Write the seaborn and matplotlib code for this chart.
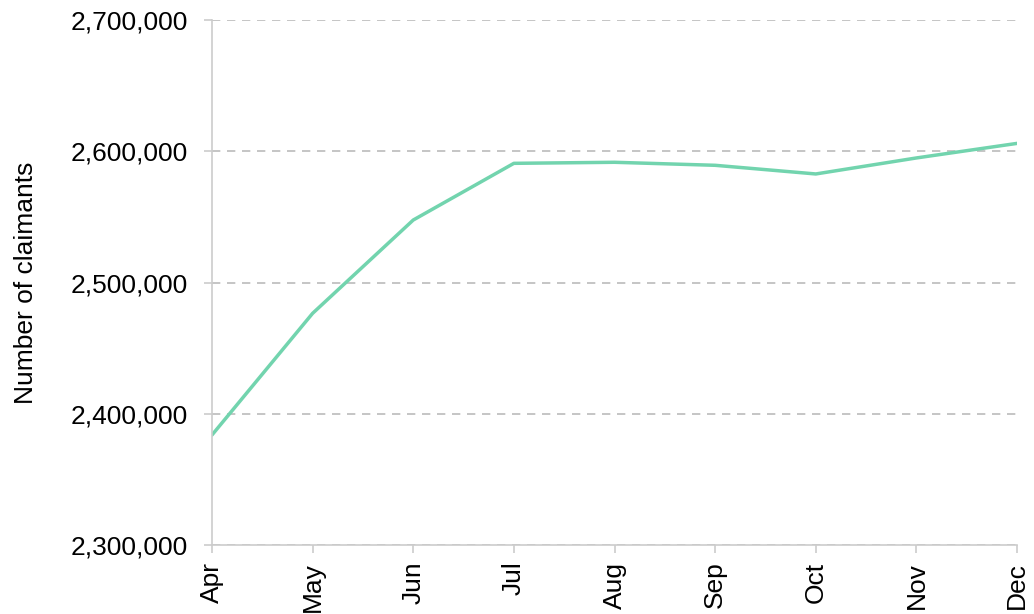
import pandas as pd
import numpy as np
import matplotlib.pyplot as plt
import matplotlib.ticker as mticker
import seaborn as sns

months = ["Apr", "May", "Jun", "Jul", "Aug", "Sep", "Oct", "Nov", "Dec"]
claimants = [2383800, 2476500, 2547600, 2590800, 2591600, 2589300, 2582700, 2594900, 2606000]

sns.set_style("white")
plt.rcParams['font.family'] = ['Liberation Sans', 'DejaVu Sans']
plt.rcParams['text.color'] = 'black'
plt.rcParams['axes.labelcolor'] = 'black'
plt.rcParams['xtick.labelcolor'] = 'black'
plt.rcParams['ytick.labelcolor'] = 'black'

df = pd.DataFrame({"month": months, "claimants": claimants})

fig = plt.figure(figsize=(10.34, 6.14), dpi=100)
ax = fig.add_axes([0.205, 0.1124, 0.7786, 0.855])

sns.lineplot(data=df, x="month", y="claimants", color="#72D4AE", linewidth=2.5, ax=ax)

ax.set_ylim(2300000, 2700000)
ax.set_xlim(0, len(months) - 1)
ax.yaxis.set_major_locator(mticker.MultipleLocator(100000))
ax.yaxis.set_major_formatter(mticker.FuncFormatter(lambda v, p: f"{int(v):,}"))
ax.grid(axis="y", linestyle=(0, (5, 4)), color="#bbbbbb", linewidth=1.2)
ax.set_axisbelow(True)

for s in ["top", "right"]:
    ax.spines[s].set_visible(False)
for s in ["left", "bottom"]:
    ax.spines[s].set_color("#cccccc")
    ax.spines[s].set_linewidth(1.2)

ax.tick_params(axis="y", length=6, width=1.2, color="#cccccc", pad=11, labelsize=19, left=True)
ax.tick_params(axis="x", length=6, width=1.2, color="#cccccc", pad=6, labelsize=19, bottom=True)
plt.setp(ax.get_xticklabels(), rotation=90)

ax.set_xlabel("")
ax.set_ylabel("Number of claimants", fontsize=19, labelpad=24)

fig.savefig("out.png", dpi=100)
